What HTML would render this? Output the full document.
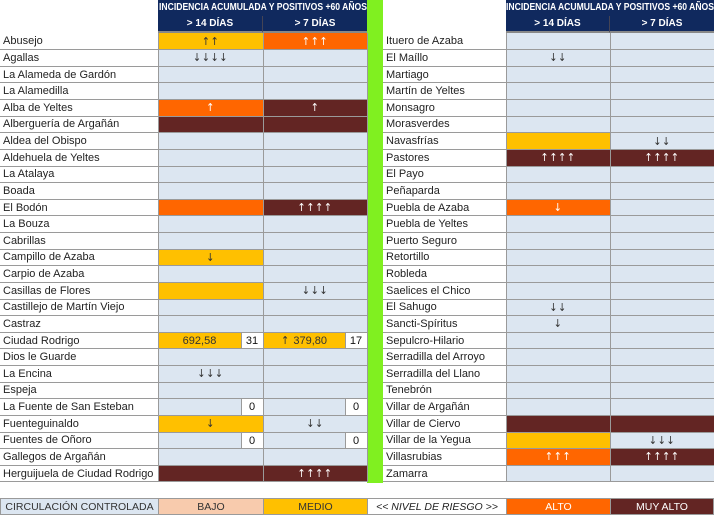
<!DOCTYPE html>
<html><head><meta charset="utf-8"><style>
*{margin:0;padding:0;box-sizing:border-box}
body{width:714px;height:515px;background:#fff;position:relative;overflow:hidden;font-family:"Liberation Sans",sans-serif;font-size:10.5px;color:#111}
.a{position:absolute}
.hd{background:#10295e;color:#fff;font-weight:bold;text-align:center;font-size:10px;line-height:16px;height:16px;white-space:nowrap;overflow:hidden}
.hd span{position:absolute;left:50%;top:0;transform:translateX(-50%) scaleX(0.86)}
table{border-collapse:collapse;table-layout:fixed;position:absolute;top:33px}
tr{height:16.63px}
td{height:16.63px;border-bottom:1px solid #9a9a9a;border-right:1px solid #9a9a9a;padding:0;text-align:center;white-space:nowrap;overflow:hidden;position:relative;line-height:13px;vertical-align:middle}
td.n{text-align:left;padding-left:3px;font-size:11px;padding-top:1px;color:#222}
.b,.y,.o,.r{font-family:"DejaVu Sans Condensed","DejaVu Sans",sans-serif;font-size:11px;letter-spacing:0.5px}
.b{background:#dce6f1;color:#333}
.y{background:#ffc000;color:#333}
.o{background:#ff6600;color:#fff}
.r{background:#632523;color:#fff}
.num{font-family:"Liberation Sans",sans-serif;font-size:11px;letter-spacing:0}
.z{position:absolute;right:0;top:0;bottom:0;width:22px;background:#fff;border-left:1px solid #9a9a9a;color:#111;text-align:center;letter-spacing:0;line-height:16px;font-family:"Liberation Sans",sans-serif}
.ft{position:absolute;top:498px;height:17px;line-height:16px;text-align:center;font-size:10.5px;border:1px solid #9a9a9a;font-family:"Liberation Sans",sans-serif;letter-spacing:0}
</style></head><body>
<div class="a hd" style="left:158px;top:0;width:209px"><span>INCIDENCIA ACUMULADA Y POSITIVOS +60 AÑOS</span></div>
<div class="a hd" style="left:158px;top:16px;width:105px;border-right:1px solid #445;border-bottom:2px solid #888;height:17px">&gt; 14 DÍAS</div>
<div class="a hd" style="left:263px;top:16px;width:104px;border-bottom:2px solid #888;height:17px">&gt; 7 DÍAS</div>
<div class="a hd" style="left:506px;top:0;width:208px"><span>INCIDENCIA ACUMULADA Y POSITIVOS +60 AÑOS</span></div>
<div class="a hd" style="left:506px;top:16px;width:104px;border-right:1px solid #445;border-bottom:2px solid #888;height:17px">&gt; 14 DÍAS</div>
<div class="a hd" style="left:610px;top:16px;width:104px;border-bottom:2px solid #888;height:17px">&gt; 7 DÍAS</div>
<div class="a" style="left:367px;top:0;width:16px;height:483px;background:#80f020"></div>

<table style="left:0;width:367px">
<colgroup><col style="width:158px"><col style="width:105px"><col style="width:104px"></colgroup>
<tr><td class="n">Abusejo</td><td class="y">↑↑</td><td class="o">↑↑↑</td></tr>
<tr><td class="n">Agallas</td><td class="b">↓↓↓↓</td><td class="b"></td></tr>
<tr><td class="n">La Alameda de Gardón</td><td class="b"></td><td class="b"></td></tr>
<tr><td class="n">La Alamedilla</td><td class="b"></td><td class="b"></td></tr>
<tr><td class="n">Alba de Yeltes</td><td class="o">↑</td><td class="r">↑</td></tr>
<tr><td class="n">Alberguería de Argañán</td><td class="r"></td><td class="r"></td></tr>
<tr><td class="n">Aldea del Obispo</td><td class="b"></td><td class="b"></td></tr>
<tr><td class="n">Aldehuela de Yeltes</td><td class="b"></td><td class="b"></td></tr>
<tr><td class="n">La Atalaya</td><td class="b"></td><td class="b"></td></tr>
<tr><td class="n">Boada</td><td class="b"></td><td class="b"></td></tr>
<tr><td class="n">El Bodón</td><td class="o"></td><td class="r">↑↑↑↑</td></tr>
<tr><td class="n">La Bouza</td><td class="b"></td><td class="b"></td></tr>
<tr><td class="n">Cabrillas</td><td class="b"></td><td class="b"></td></tr>
<tr><td class="n">Campillo de Azaba</td><td class="y">↓</td><td class="b"></td></tr>
<tr><td class="n">Carpio de Azaba</td><td class="b"></td><td class="b"></td></tr>
<tr><td class="n">Casillas de Flores</td><td class="y"></td><td class="b">↓↓↓</td></tr>
<tr><td class="n">Castillejo de Martín Viejo</td><td class="b"></td><td class="b"></td></tr>
<tr><td class="n">Castraz</td><td class="b"></td><td class="b"></td></tr>
<tr><td class="n">Ciudad Rodrigo</td><td class="y"><span class="num" style="margin-right:22px">692,58</span><span class="z">31</span></td><td class="y"><span style="margin-right:22px">↑ <span class="num">379,80</span></span><span class="z">17</span></td></tr>
<tr><td class="n">Dios le Guarde</td><td class="b"></td><td class="b"></td></tr>
<tr><td class="n">La Encina</td><td class="b">↓↓↓</td><td class="b"></td></tr>
<tr><td class="n">Espeja</td><td class="b"></td><td class="b"></td></tr>
<tr><td class="n">La Fuente de San Esteban</td><td class="b"><span class="z">0</span></td><td class="b"><span class="z">0</span></td></tr>
<tr><td class="n">Fuenteguinaldo</td><td class="y">↓</td><td class="b">↓↓</td></tr>
<tr><td class="n">Fuentes de Oñoro</td><td class="b"><span class="z">0</span></td><td class="b"><span class="z">0</span></td></tr>
<tr><td class="n">Gallegos de Argañán</td><td class="b"></td><td class="b"></td></tr>
<tr><td class="n">Herguijuela de Ciudad Rodrigo</td><td class="r"></td><td class="r">↑↑↑↑</td></tr>
</table>

<table style="left:383px;width:331px">
<colgroup><col style="width:123px"><col style="width:104px"><col style="width:104px"></colgroup>
<tr><td class="n">Ituero de Azaba</td><td class="b"></td><td class="b"></td></tr>
<tr><td class="n">El Maíllo</td><td class="b">↓↓</td><td class="b"></td></tr>
<tr><td class="n">Martiago</td><td class="b"></td><td class="b"></td></tr>
<tr><td class="n">Martín de Yeltes</td><td class="b"></td><td class="b"></td></tr>
<tr><td class="n">Monsagro</td><td class="b"></td><td class="b"></td></tr>
<tr><td class="n">Morasverdes</td><td class="b"></td><td class="b"></td></tr>
<tr><td class="n">Navasfrías</td><td class="y"></td><td class="b">↓↓</td></tr>
<tr><td class="n">Pastores</td><td class="r">↑↑↑↑</td><td class="r">↑↑↑↑</td></tr>
<tr><td class="n">El Payo</td><td class="b"></td><td class="b"></td></tr>
<tr><td class="n">Peñaparda</td><td class="b"></td><td class="b"></td></tr>
<tr><td class="n">Puebla de Azaba</td><td class="o">↓</td><td class="b"></td></tr>
<tr><td class="n">Puebla de Yeltes</td><td class="b"></td><td class="b"></td></tr>
<tr><td class="n">Puerto Seguro</td><td class="b"></td><td class="b"></td></tr>
<tr><td class="n">Retortillo</td><td class="b"></td><td class="b"></td></tr>
<tr><td class="n">Robleda</td><td class="b"></td><td class="b"></td></tr>
<tr><td class="n">Saelices el Chico</td><td class="b"></td><td class="b"></td></tr>
<tr><td class="n">El Sahugo</td><td class="b">↓↓</td><td class="b"></td></tr>
<tr><td class="n">Sancti-Spíritus</td><td class="b">↓</td><td class="b"></td></tr>
<tr><td class="n">Sepulcro-Hilario</td><td class="b"></td><td class="b"></td></tr>
<tr><td class="n">Serradilla del Arroyo</td><td class="b"></td><td class="b"></td></tr>
<tr><td class="n">Serradilla del Llano</td><td class="b"></td><td class="b"></td></tr>
<tr><td class="n">Tenebrón</td><td class="b"></td><td class="b"></td></tr>
<tr><td class="n">Villar de Argañán</td><td class="b"></td><td class="b"></td></tr>
<tr><td class="n">Villar de Ciervo</td><td class="r"></td><td class="r"></td></tr>
<tr><td class="n">Villar de la Yegua</td><td class="y"></td><td class="b">↓↓↓</td></tr>
<tr><td class="n">Villasrubias</td><td class="o">↑↑↑</td><td class="r">↑↑↑↑</td></tr>
<tr><td class="n">Zamarra</td><td class="b"></td><td class="b"></td></tr>
</table>

<div class="ft b" style="left:0;width:159px">CIRCULACIÓN CONTROLADA</div>
<div class="ft" style="left:158px;width:106px;background:#f8cbad;color:#333">BAJO</div>
<div class="ft y" style="left:263px;width:105px">MEDIO</div>
<div class="ft" style="left:367px;width:140px;font-style:italic;color:#222">&lt;&lt; NIVEL DE RIESGO &gt;&gt;</div>
<div class="ft o" style="left:506px;width:105px">ALTO</div>
<div class="ft r" style="left:610px;width:104px">MUY ALTO</div>
</body></html>
